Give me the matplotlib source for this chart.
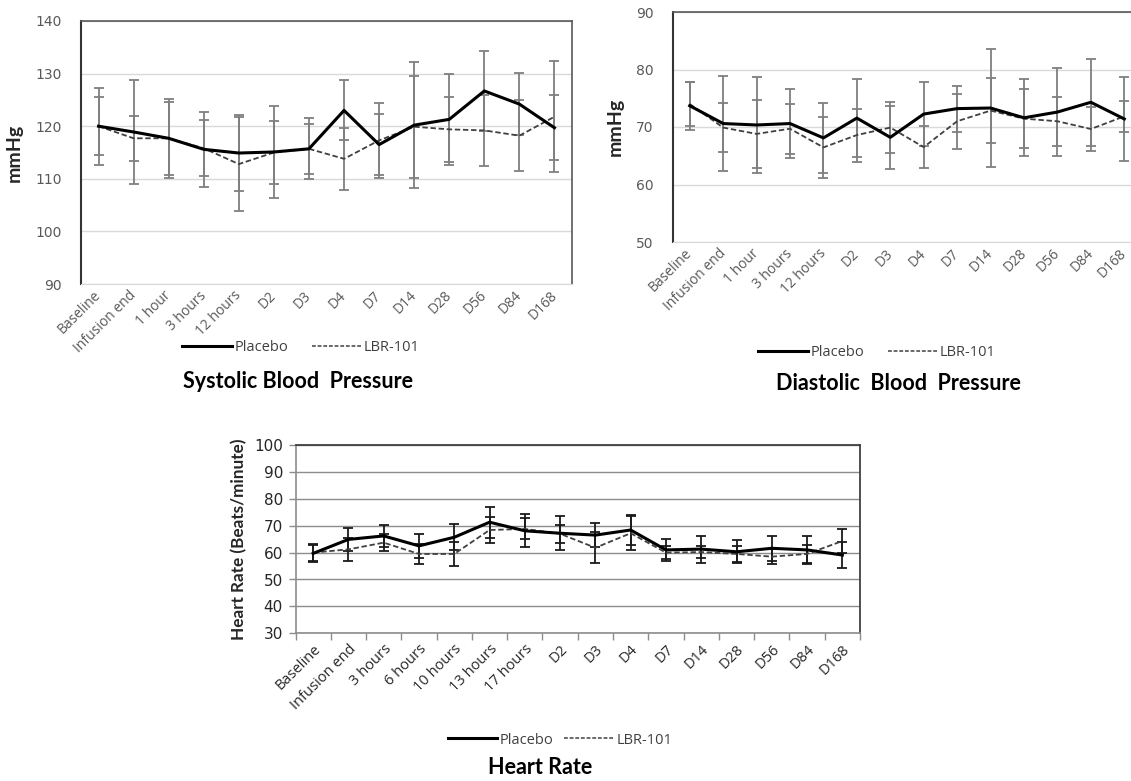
import matplotlib
matplotlib.use('Agg')
import matplotlib.pyplot as plt
import matplotlib.transforms as mtransforms
import numpy as np
from matplotlib.lines import Line2D

# systolic blood pressure (mmHg), mean and error half-widths
sbp_labels = ['Baseline', 'Infusion end', '1 hour', '3 hours', '12 hours', 'D2', 'D3',
              'D4', 'D7', 'D14', 'D28', 'D56', 'D84', 'D168']
sbp_placebo = [120.0, 118.9, 117.7, 115.6, 114.9, 115.1, 115.7, 123.0, 116.5, 120.2, 121.3, 126.7, 124.2, 119.7]
sbp_placebo_err = [7.3, 9.9, 7.5, 7.1, 7.3, 8.7, 5.8, 5.7, 5.8, 12.0, 8.7, 7.6, 5.9, 6.2]
sbp_lbr = [120.0, 117.7, 117.7, 115.8, 112.8, 115.0, 115.7, 113.8, 117.3, 119.9, 119.4, 119.2, 118.2, 121.8]
sbp_lbr_err = [5.5, 4.3, 6.9, 5.3, 9.0, 6.0, 4.8, 5.9, 7.1, 9.7, 6.2, 6.7, 6.8, 10.6]

# diastolic blood pressure (mmHg)
dbp_labels = sbp_labels
dbp_placebo = [73.7, 70.6, 70.35, 70.6, 68.1, 71.55, 68.2, 72.25, 73.2, 73.3, 71.6, 72.6, 74.3, 71.4]
dbp_placebo_err = [4.2, 8.2, 8.4, 6.0, 6.1, 6.8, 5.5, 5.5, 4.0, 10.2, 6.7, 7.6, 7.6, 7.3]
dbp_lbr = [74.0, 69.9, 68.8, 69.7, 66.45, 68.6, 69.9, 66.5, 71.0, 72.85, 71.45, 71.0, 69.65, 71.85]
dbp_lbr_err = [3.9, 4.2, 5.9, 4.35, 5.35, 4.6, 4.5, 3.6, 4.8, 5.6, 5.1, 4.3, 3.75, 2.75]

# heart rate (beats/minute)
hr_labels = ['Baseline', 'Infusion end', '3 hours', '6 hours', '10 hours', '13 hours', '17 hours',
             'D2', 'D3', 'D4', 'D7', 'D14', 'D28', 'D56', 'D84', 'D168']
hr_placebo = [59.7, 64.9, 66.2, 62.5, 65.7, 71.3, 68.1, 67.2, 66.5, 68.4, 61.0, 61.3, 60.3, 61.6, 61.0, 59.1]
hr_placebo_err = [3.3, 4.4, 4.0, 4.5, 4.9, 5.7, 6.2, 6.3, 4.6, 5.6, 4.0, 5.0, 4.3, 4.7, 5.3, 4.7]
hr_lbr = [60.0, 61.2, 63.7, 59.5, 59.5, 68.4, 68.8, 67.0, 61.8, 67.2, 60.0, 60.2, 59.5, 58.5, 59.5, 64.3]
hr_lbr_err = [3.3, 4.3, 3.1, 3.8, 4.5, 4.7, 3.9, 3.3, 5.8, 6.3, 2.5, 2.3, 3.0, 2.9, 3.3, 4.4]

W, H = 1131, 781
fig = plt.figure(figsize=(W / 100, H / 100), dpi=100)


def px_axes(left, top, right, bottom):
    return fig.add_axes([left / W, 1 - bottom / H, (right - left) / W, (bottom - top) / H])


dash = (0, (3, 1.5))
tick_font = 'DejaVu Sans'
lab_font = 'Open Sans'
bold_font = 'Lato'


def draw_panel(ax, labels, plac, plac_err, lbr, lbr_err, ylim, bar_color, grid_color, lbl_color, xfs):
    x = np.arange(len(labels))
    ax.errorbar(x, plac, yerr=plac_err, fmt='none', ecolor=bar_color, elinewidth=1.3,
                capsize=3.6, capthick=1.3, zorder=2)
    ax.errorbar(x, lbr, yerr=lbr_err, fmt='none', ecolor=bar_color, elinewidth=1.3,
                capsize=3.6, capthick=1.3, zorder=2)
    ax.plot(x, lbr, color='#404040', lw=1.3, ls=dash, zorder=3)
    ax.plot(x, plac, color='black', lw=2.2, zorder=4)
    ax.set_xlim(-0.5, len(labels) - 0.5)
    ax.set_ylim(*ylim)
    ax.set_yticks(np.arange(ylim[0], ylim[1] + 1, 10))
    ax.yaxis.grid(True, color=grid_color, lw=1.0)
    ax.set_axisbelow(True)
    ax.set_xticks(x)
    ax.set_xticklabels(labels, rotation=45, ha='right', rotation_mode='anchor',
                       fontfamily=lab_font, fontsize=xfs, color=lbl_color)
    for t in ax.get_yticklabels():
        t.set_fontfamily(tick_font)
        t.set_fontsize(10)
        t.set_color(lbl_color)


def shift_xlabels(ax, dx_px):
    off = mtransforms.ScaledTranslation(dx_px / 100, 0, fig.dpi_scale_trans)
    for t in ax.get_xticklabels():
        t.set_transform(t.get_transform() + off)


def style_top(ax):
    ax.tick_params(length=0)
    ax.tick_params(axis='y', pad=14)
    ax.tick_params(axis='x', pad=3)
    ax.spines['left'].set_color('#333333')
    ax.spines['left'].set_linewidth(1.5)
    for s in ('top', 'right'):
        ax.spines[s].set_color('#595959')
        ax.spines[s].set_linewidth(1.2)
    ax.spines['bottom'].set_color('#d9d9d9')
    ax.set_ylabel('mmHg', fontfamily=bold_font, fontweight='bold', fontsize=14,
                  color='#262626', labelpad=9)
    shift_xlabels(ax, -5)


# ---- systolic
ax1 = px_axes(81, 21, 572, 284)
draw_panel(ax1, sbp_labels, sbp_placebo, sbp_placebo_err, sbp_lbr, sbp_lbr_err,
           (90, 140), '#7f7f7f', '#d9d9d9', '#595959', 10)
style_top(ax1)

# ---- diastolic
ax2 = px_axes(673, 12, 1141, 242)
draw_panel(ax2, dbp_labels, dbp_placebo, dbp_placebo_err, dbp_lbr, dbp_lbr_err,
           (50, 90), '#7f7f7f', '#d9d9d9', '#595959', 10)
style_top(ax2)

# ---- heart rate
ax3 = px_axes(295.5, 445, 860, 633.3)
draw_panel(ax3, hr_labels, hr_placebo, hr_placebo_err, hr_lbr, hr_lbr_err,
           (30, 100), '#1a1a1a', '#8c8c8c', '#262626', 10.5)
ax3.tick_params(axis='x', which='major', length=0, pad=6)
ax3.set_xticks(np.arange(len(hr_labels) + 1) - 0.5, minor=True)
ax3.tick_params(axis='x', which='minor', length=5, color='#8c8c8c', width=1)
ax3.tick_params(axis='y', length=5, color='#8c8c8c', width=1, pad=4)
for t in ax3.get_yticklabels():
    t.set_fontsize(11)
for s in ('top', 'right'):
    ax3.spines[s].set_color('#404040')
    ax3.spines[s].set_linewidth(1.3)
for s in ('left', 'bottom'):
    ax3.spines[s].set_color('#8c8c8c')
    ax3.spines[s].set_linewidth(1.2)
ax3.set_ylabel('Heart Rate (Beats/minute)', fontfamily=bold_font, fontweight='bold',
               fontsize=12.3, color='#262626', labelpad=5)

# ---- legends and titles
handles = [Line2D([], [], color='black', lw=2.2),
           Line2D([], [], color='#404040', lw=1.1, ls=(0, (2.5, 1.2)))]
names = ['Placebo', 'LBR-101']


def legend_at(cx, cy, gap):
    fig.legend(handles, names, loc='center', bbox_to_anchor=(cx / W, 1 - cy / H), ncol=2,
               frameon=False, handlelength=3.4, handletextpad=0.2, columnspacing=gap,
               prop={'family': lab_font, 'size': 10.5}, labelcolor='#404040')


legend_at(301, 348, 1.6)
legend_at(877, 353, 1.6)
legend_at(560, 740, 0.7)

title_kw = dict(ha='center', va='center', fontfamily=bold_font, fontweight='bold',
                fontsize=15.5, color='black')
fig.text(298 / W, 1 - 382 / H, 'Systolic Blood  Pressure', **title_kw)
fig.text(898 / W, 1 - 384 / H, 'Diastolic  Blood  Pressure', **title_kw)
fig.text(540 / W, 1 - 767 / H, 'Heart Rate', **title_kw)

fig.savefig('out.png', dpi=100)
